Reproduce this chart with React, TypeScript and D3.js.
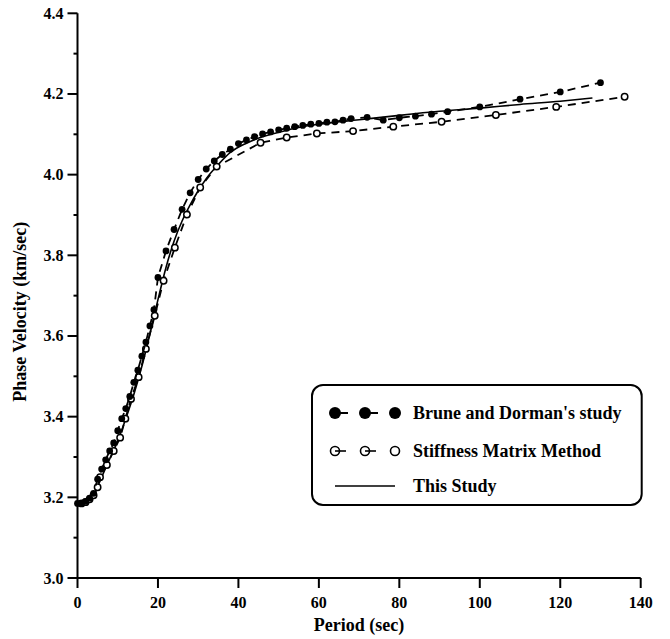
import * as d3 from 'd3';

// Brune and Dorman's study (filled circles)
const brunePeriod = [0, 1, 2, 3, 4, 5, 6, 7, 8, 9, 10, 11, 12, 13, 14, 15, 16, 17, 18, 19, 20, 22, 24, 26, 28, 30, 32, 34, 36, 38, 40, 42, 44, 46, 48, 50, 52, 54, 56, 58, 60, 62, 64, 66, 68, 72, 76, 80, 84, 88, 92, 100, 110, 120, 130];
const bruneVel = [3.185, 3.185, 3.19, 3.198, 3.21, 3.245, 3.27, 3.293, 3.315, 3.335, 3.365, 3.395, 3.42, 3.45, 3.485, 3.515, 3.55, 3.585, 3.625, 3.665, 3.745, 3.811, 3.864, 3.914, 3.955, 3.988, 4.014, 4.034, 4.05, 4.063, 4.077, 4.086, 4.094, 4.101, 4.106, 4.111, 4.115, 4.119, 4.122, 4.125, 4.127, 4.13, 4.131, 4.135, 4.139, 4.142, 4.135, 4.141, 4.145, 4.15, 4.156, 4.168, 4.187, 4.205, 4.228];

// Stiffness Matrix Method (open circles)
const smmPeriod = [1, 2, 3, 4, 5, 5.6, 7.3, 9, 10.6, 11.9, 13.3, 15.2, 17, 19.2, 21.4, 24.2, 27.2, 30.5, 34.6, 45.5, 52, 59.5, 68.5, 78.5, 90.5, 104, 119, 136];
const smmVel = [3.185, 3.188, 3.195, 3.205, 3.225, 3.25, 3.28, 3.315, 3.348, 3.395, 3.444, 3.498, 3.568, 3.65, 3.737, 3.819, 3.901, 3.968, 4.02, 4.079, 4.092, 4.102, 4.108, 4.119, 4.131, 4.148, 4.168, 4.193];

// This Study (solid line)
const studyPeriod = [0, 2, 4, 6, 8, 10, 12, 14, 16, 18, 20, 22, 24, 26, 28, 30, 32, 35, 38, 42, 46, 50, 55, 60, 70, 80, 90, 100, 110, 120, 128];
const studyVel = [3.18, 3.183, 3.205, 3.25, 3.295, 3.34, 3.395, 3.455, 3.525, 3.605, 3.69, 3.77, 3.835, 3.885, 3.925, 3.96, 3.99, 4.025, 4.055, 4.078, 4.094, 4.105, 4.117, 4.125, 4.136, 4.147, 4.157, 4.165, 4.174, 4.182, 4.19];

const xTicks = [0, 20, 40, 60, 80, 100, 120, 140];
const yTicks = [3.0, 3.2, 3.4, 3.6, 3.8, 4.0, 4.2, 4.4];
const yMinorTicks = [3.1, 3.3, 3.5, 3.7, 3.9, 4.1, 4.3];
const legendLabels = ["Brune and Dorman's study", 'Stiffness Matrix Method', 'This Study'];

const FONT = '"Liberation Serif", "Times New Roman", serif';

const width = 670;
const height = 639;
const left = 77.5;
const right = 640.7;
const top = 13.3;
const bottom = 578;

const App = () => {
  const x = d3.scaleLinear().domain([0, 140]).range([left, right]);
  const y = d3.scaleLinear().domain([3.0, 4.4]).range([bottom, top]);

  const brune = brunePeriod.map((p, i) => [p, bruneVel[i]] as [number, number]);
  const smm = smmPeriod.map((p, i) => [p, smmVel[i]] as [number, number]);
  const study = studyPeriod.map((p, i) => [p, studyVel[i]] as [number, number]);

  const line = d3.line<[number, number]>()
    .x(d => x(d[0]))
    .y(d => y(d[1]));
  const smooth = d3.line<[number, number]>()
    .x(d => x(d[0]))
    .y(d => y(d[1]))
    .curve(d3.curveMonotoneX);

  // legend geometry
  const lgX = 312, lgY = 385, lgW = 329.7, lgH = 120;
  const rowY = [413, 451, 486];
  const symX = [335, 365, 395];
  const textX = 413;

  return (
    <>
      <style>{'body{margin:0}'}</style>
      <svg width={width} height={height} style={{ display: 'block', background: '#fff' }}>
        {/* this study */}
        <path d={smooth(study) || ''} fill="none" stroke="#000" strokeWidth={1.6} />

        {/* stiffness matrix method */}
        <path d={line(smm) || ''} fill="none" stroke="#000" strokeWidth={1.8} strokeDasharray="8 6" />
        {smm.map((d, i) => (
          <circle key={'s' + i} cx={x(d[0])} cy={y(d[1])} r={3.2} fill="#fff" stroke="#000" strokeWidth={1.5} />
        ))}

        {/* brune and dorman */}
        <path d={line(brune) || ''} fill="none" stroke="#000" strokeWidth={1.8} strokeDasharray="8 6" />
        {brune.map((d, i) => (
          <circle key={'b' + i} cx={x(d[0])} cy={y(d[1])} r={3.4} fill="#000" />
        ))}

        {/* axes */}
        <g stroke="#000" strokeWidth={2} fill="none">
          <line x1={left} x2={left} y1={top} y2={bottom} />
          <line x1={left} x2={right} y1={bottom} y2={bottom} />
          {yTicks.map(t => (
            <line key={'yt' + t} x1={left - 10} x2={left} y1={y(t)} y2={y(t)} />
          ))}
          {yMinorTicks.map(t => (
            <line key={'ym' + t} x1={left - 4} x2={left} y1={y(t)} y2={y(t)} />
          ))}
          {xTicks.map(t => (
            <line key={'xt' + t} x1={x(t)} x2={x(t)} y1={bottom} y2={bottom + 10} />
          ))}
        </g>
        <g fontFamily={FONT} fontWeight="bold" fontSize={16} fill="#000">
          {yTicks.map(t => (
            <text key={'yl' + t} x={left - 14} y={y(t)} textAnchor="end" dominantBaseline="central">
              {t.toFixed(1)}
            </text>
          ))}
          {xTicks.map(t => (
            <text key={'xl' + t} x={x(t)} y={bottom + 24} textAnchor="middle" dominantBaseline="central">
              {t}
            </text>
          ))}
        </g>
        <text x={x(70)} y={631} textAnchor="middle" fontFamily={FONT} fontWeight="bold" fontSize={18}>
          Period (sec)
        </text>
        <text
          transform={`translate(26, ${y(3.66)}) rotate(-90)`}
          textAnchor="middle"
          fontFamily={FONT}
          fontWeight="bold"
          fontSize={18}
        >
          Phase Velocity (km/sec)
        </text>

        {/* legend */}
        <rect x={lgX} y={lgY} width={lgW} height={lgH} rx={11} fill="#fff" stroke="#000" strokeWidth={2} />
        {symX.slice(0, 2).map(sx => (
          <line key={'lb' + sx} x1={sx + 4} x2={sx + 13} y1={rowY[0]} y2={rowY[0]} stroke="#000" strokeWidth={2} />
        ))}
        {symX.map(sx => (
          <circle key={'cb' + sx} cx={sx} cy={rowY[0]} r={6} fill="#000" />
        ))}
        {symX.slice(0, 2).map(sx => (
          <line key={'ls' + sx} x1={sx} x2={sx + 11} y1={rowY[1]} y2={rowY[1]} stroke="#000" strokeWidth={1.6} />
        ))}
        {symX.map(sx => (
          <circle key={'cs' + sx} cx={sx} cy={rowY[1]} r={4.5} fill="none" stroke="#000" strokeWidth={1.6} />
        ))}
        <line x1={symX[0]} x2={symX[2]} y1={rowY[2]} y2={rowY[2]} stroke="#000" strokeWidth={1.6} />
        <g fontFamily={FONT} fontWeight="bold" fontSize={18} fill="#000">
          {legendLabels.map((lab, i) => (
            <text key={lab} x={textX} y={rowY[i]} dominantBaseline="central">
              {lab}
            </text>
          ))}
        </g>
      </svg>
    </>
  );
};

export default App;
